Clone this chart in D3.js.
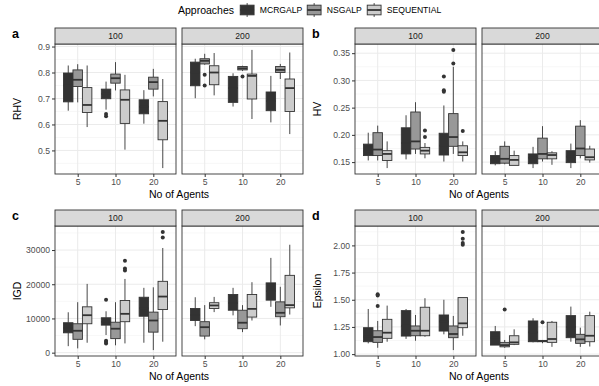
<!DOCTYPE html>
<html>
<head>
<meta charset="utf-8">
<script src="https://cdn.jsdelivr.net/npm/d3@7"></script>
<style>
  body { margin: 0; background: #fff; }
  text { font-family: "Liberation Sans", Arial, sans-serif; }
</style>
</head>
<body>
<script>
// categories
const facets = ["100", "200"];
const agents = ["5", "10", "20"];
const approaches = ["MCRGALP", "NSGALP", "SEQUENTIAL"];

// box stats: facet, agents, approach, lower whisker, q1, median, q3, upper whisker
const rhvBoxes = [
    ["100", "5", "MCRGALP", 0.653, 0.687, 0.750, 0.798, 0.827],
    ["100", "5", "NSGALP", 0.685, 0.746, 0.772, 0.810, 0.832],
    ["100", "5", "SEQUENTIAL", 0.590, 0.646, 0.675, 0.742, 0.827],
    ["100", "10", "MCRGALP", 0.657, 0.699, 0.718, 0.736, 0.765],
    ["100", "10", "NSGALP", 0.731, 0.759, 0.778, 0.794, 0.840],
    ["100", "10", "SEQUENTIAL", 0.503, 0.604, 0.695, 0.733, 0.791],
    ["100", "20", "MCRGALP", 0.603, 0.641, 0.668, 0.695, 0.732],
    ["100", "20", "NSGALP", 0.708, 0.736, 0.763, 0.782, 0.814],
    ["100", "20", "SEQUENTIAL", 0.432, 0.541, 0.614, 0.688, 0.775],
    ["200", "5", "MCRGALP", 0.701, 0.749, 0.800, 0.840, 0.853],
    ["200", "5", "NSGALP", 0.830, 0.833, 0.845, 0.853, 0.872],
    ["200", "5", "SEQUENTIAL", 0.712, 0.753, 0.800, 0.826, 0.875],
    ["200", "10", "MCRGALP", 0.669, 0.685, 0.740, 0.785, 0.797],
    ["200", "10", "NSGALP", 0.806, 0.810, 0.816, 0.823, 0.826],
    ["200", "10", "SEQUENTIAL", 0.621, 0.698, 0.787, 0.794, 0.887],
    ["200", "20", "MCRGALP", 0.608, 0.653, 0.690, 0.725, 0.787],
    ["200", "20", "NSGALP", 0.775, 0.800, 0.810, 0.823, 0.833],
    ["200", "20", "SEQUENTIAL", 0.563, 0.650, 0.740, 0.775, 0.877]
];
const rhvOutliers = [
    ["100", "10", "MCRGALP", 0.640], ["100", "10", "MCRGALP", 0.632],
    ["200", "5", "NSGALP", 0.791], ["200", "5", "NSGALP", 0.750],
    ["200", "10", "NSGALP", 0.785]
];
const rhvTicks = [0.5, 0.6, 0.7, 0.8, 0.9];

const hvBoxes = [
    ["100", "5", "MCRGALP", 0.153, 0.162, 0.170, 0.183, 0.204],
    ["100", "5", "NSGALP", 0.153, 0.162, 0.173, 0.204, 0.217],
    ["100", "5", "SEQUENTIAL", 0.139, 0.153, 0.165, 0.171, 0.188],
    ["100", "10", "MCRGALP", 0.155, 0.165, 0.185, 0.213, 0.236],
    ["100", "10", "NSGALP", 0.165, 0.174, 0.188, 0.242, 0.260],
    ["100", "10", "SEQUENTIAL", 0.157, 0.165, 0.171, 0.177, 0.185],
    ["100", "20", "MCRGALP", 0.151, 0.163, 0.180, 0.203, 0.254],
    ["100", "20", "NSGALP", 0.165, 0.179, 0.196, 0.239, 0.325],
    ["100", "20", "SEQUENTIAL", 0.151, 0.162, 0.168, 0.180, 0.188],
    ["200", "5", "MCRGALP", 0.144, 0.147, 0.155, 0.162, 0.170],
    ["200", "5", "NSGALP", 0.146, 0.148, 0.156, 0.179, 0.188],
    ["200", "5", "SEQUENTIAL", 0.144, 0.144, 0.154, 0.162, 0.171],
    ["200", "10", "MCRGALP", 0.139, 0.147, 0.158, 0.165, 0.178],
    ["200", "10", "NSGALP", 0.151, 0.156, 0.165, 0.194, 0.216],
    ["200", "10", "SEQUENTIAL", 0.145, 0.156, 0.163, 0.167, 0.170],
    ["200", "20", "MCRGALP", 0.139, 0.149, 0.160, 0.171, 0.184],
    ["200", "20", "NSGALP", 0.157, 0.162, 0.175, 0.216, 0.227],
    ["200", "20", "SEQUENTIAL", 0.149, 0.154, 0.159, 0.174, 0.180]
];
const hvOutliers = [
    ["100", "10", "SEQUENTIAL", 0.208], ["100", "10", "SEQUENTIAL", 0.196],
    ["100", "20", "MCRGALP", 0.307], ["100", "20", "MCRGALP", 0.282], ["100", "20", "MCRGALP", 0.279],
    ["100", "20", "NSGALP", 0.331], ["100", "20", "NSGALP", 0.356],
    ["100", "20", "SEQUENTIAL", 0.207]
];
const hvTicks = [0.15, 0.20, 0.25, 0.30, 0.35];

const igdBoxes = [
    ["100", "5", "MCRGALP", 1900, 5800, 7200, 8750, 11800],
    ["100", "5", "NSGALP", 1250, 3900, 6400, 8450, 14750],
    ["100", "5", "SEQUENTIAL", 2900, 8450, 10950, 13400, 20100],
    ["100", "10", "MCRGALP", 5150, 8050, 9000, 10200, 12100],
    ["100", "10", "NSGALP", 2150, 4100, 7000, 8900, 14750],
    ["100", "10", "SEQUENTIAL", 2700, 9050, 11350, 15250, 21550],
    ["100", "20", "MCRGALP", 2900, 10650, 13000, 16200, 18950],
    ["100", "20", "NSGALP", 750, 6000, 9400, 11850, 19100],
    ["100", "20", "SEQUENTIAL", 3200, 12600, 16400, 20850, 30600],
    ["200", "5", "MCRGALP", 7750, 9400, 11000, 12900, 16200],
    ["200", "5", "NSGALP", 3900, 4850, 7450, 9050, 13900],
    ["200", "5", "SEQUENTIAL", 11850, 12900, 13800, 14600, 16300],
    ["200", "10", "MCRGALP", 10900, 12400, 14500, 17000, 18950],
    ["200", "10", "NSGALP", 6000, 7000, 8750, 12400, 13900],
    ["200", "10", "SEQUENTIAL", 9400, 10400, 12800, 17000, 20600],
    ["200", "20", "MCRGALP", 13400, 15350, 18000, 20400, 27700],
    ["200", "20", "NSGALP", 7950, 10500, 11650, 14850, 19250],
    ["200", "20", "SEQUENTIAL", 11150, 13100, 13900, 22600, 31550]
];
const igdOutliers = [
    ["100", "10", "MCRGALP", 15450], ["100", "10", "MCRGALP", 3500],
    ["100", "10", "MCRGALP", 3100], ["100", "10", "MCRGALP", 2700],
    ["100", "10", "SEQUENTIAL", 24000], ["100", "10", "SEQUENTIAL", 24600], ["100", "10", "SEQUENTIAL", 26900],
    ["100", "20", "SEQUENTIAL", 33700], ["100", "20", "SEQUENTIAL", 35300]
];
const igdTicks = [0, 10000, 20000, 30000];

const epsBoxes = [
    ["100", "5", "MCRGALP", 1.099, 1.114, 1.160, 1.243, 1.415],
    ["100", "5", "NSGALP", 1.058, 1.108, 1.157, 1.215, 1.305],
    ["100", "5", "SEQUENTIAL", 1.114, 1.145, 1.197, 1.320, 1.446],
    ["100", "10", "MCRGALP", 1.140, 1.166, 1.260, 1.400, 1.415],
    ["100", "10", "NSGALP", 1.123, 1.169, 1.215, 1.259, 1.360],
    ["100", "10", "SEQUENTIAL", 1.160, 1.169, 1.215, 1.431, 1.514],
    ["100", "20", "MCRGALP", 1.182, 1.212, 1.300, 1.360, 1.500],
    ["100", "20", "NSGALP", 1.037, 1.151, 1.185, 1.259, 1.351],
    ["100", "20", "SEQUENTIAL", 1.169, 1.243, 1.283, 1.520, 1.520],
    ["200", "5", "MCRGALP", 1.083, 1.083, 1.150, 1.206, 1.259],
    ["200", "5", "NSGALP", 1.058, 1.067, 1.083, 1.108, 1.130],
    ["200", "5", "SEQUENTIAL", 1.083, 1.090, 1.108, 1.169, 1.228],
    ["200", "10", "MCRGALP", 1.108, 1.114, 1.200, 1.305, 1.330],
    ["200", "10", "NSGALP", 1.100, 1.114, 1.120, 1.126, 1.130],
    ["200", "10", "SEQUENTIAL", 1.067, 1.108, 1.139, 1.293, 1.305],
    ["200", "20", "MCRGALP", 1.114, 1.151, 1.250, 1.354, 1.437],
    ["200", "20", "NSGALP", 1.067, 1.099, 1.136, 1.182, 1.243],
    ["200", "20", "SEQUENTIAL", 1.070, 1.114, 1.169, 1.354, 1.390]
];
const epsOutliers = [
    ["100", "5", "NSGALP", 1.551], ["100", "5", "NSGALP", 1.538], ["100", "5", "NSGALP", 1.443],
    ["100", "20", "SEQUENTIAL", 2.124], ["100", "20", "SEQUENTIAL", 2.062],
    ["100", "20", "SEQUENTIAL", 2.022], ["100", "20", "SEQUENTIAL", 2.006],
    ["200", "5", "NSGALP", 1.410],
    ["200", "10", "NSGALP", 1.293]
];
const epsTicks = [1.00, 1.25, 1.50, 1.75, 2.00];

// look
const fillScale = d3.scaleOrdinal().domain(approaches).range(["#333333", "#989898", "#cccccc"]);
const ink = "#333333";
const panelW = 121;

const svg = d3.select("body").append("svg")
    .attr("width", 599)
    .attr("height", 386);

const panels = [
    { label: "a", title: "RHV", boxes: rhvBoxes, outliers: rhvOutliers, ticks: rhvTicks, fmt: d3.format(".1f"), lefts: [55, 182], top: 44, bottom: 174 },
    { label: "b", title: "HV", boxes: hvBoxes, outliers: hvOutliers, ticks: hvTicks, fmt: d3.format(".2f"), lefts: [355, 482], top: 44, bottom: 174 },
    { label: "c", title: "IGD", boxes: igdBoxes, outliers: igdOutliers, ticks: igdTicks, fmt: d3.format("d"), lefts: [55, 182], top: 226, bottom: 356 },
    { label: "d", title: "Epsilon", boxes: epsBoxes, outliers: epsOutliers, ticks: epsTicks, fmt: d3.format(".2f"), lefts: [355, 482], top: 226, bottom: 356 }
];

panels.forEach(drawPanel);
drawLegend();

function drawPanel(p) {
    // ggplot-like continuous range with 5% expansion
    const lo = d3.min([...p.boxes.map(d => d[3]), ...p.outliers.map(d => d[3])]);
    const hi = d3.max([...p.boxes.map(d => d[7]), ...p.outliers.map(d => d[3])]);
    const pad = (hi - lo) * 0.05;
    const y = d3.scaleLinear().domain([lo - pad, hi + pad]).range([p.bottom, p.top]);
    const step = p.ticks[1] - p.ticks[0];
    const minor = [p.ticks[0] - step / 2, ...p.ticks.map(t => t + step / 2)]
        .filter(v => v >= y.domain()[0] && v <= y.domain()[1]);

    const g = svg.append("g");

    facets.forEach((f, fi) => {
        const x0 = p.lefts[fi];
        const x = d3.scalePoint().domain(agents).range([x0, x0 + panelW]).padding(0.6);
        const dodge = d3.scaleBand().domain(approaches)
            .range([-0.375 * x.step(), 0.375 * x.step()]);
        const bw = dodge.bandwidth();
        const cx = d => x(d[1]) + dodge(d[2]) + bw / 2;

        const pg = g.append("g");

        pg.append("rect")
            .attr("x", x0).attr("y", p.top)
            .attr("width", panelW).attr("height", p.bottom - p.top)
            .attr("fill", "#fff");

        // grid
        pg.selectAll(".minor").data(minor).enter().append("line")
            .attr("x1", x0).attr("x2", x0 + panelW)
            .attr("y1", d => y(d)).attr("y2", d => y(d))
            .attr("stroke", "#f2f2f2").attr("stroke-width", 0.6);
        pg.selectAll(".major").data(p.ticks).enter().append("line")
            .attr("x1", x0).attr("x2", x0 + panelW)
            .attr("y1", d => y(d)).attr("y2", d => y(d))
            .attr("stroke", "#ebebeb").attr("stroke-width", 1);
        pg.selectAll(".vmajor").data(agents).enter().append("line")
            .attr("x1", d => x(d)).attr("x2", d => x(d))
            .attr("y1", p.top).attr("y2", p.bottom)
            .attr("stroke", "#ebebeb").attr("stroke-width", 1);

        const rows = p.boxes.filter(d => d[0] === f);

        // whiskers
        pg.selectAll(".wh").data(rows).enter().append("line")
            .attr("x1", cx).attr("x2", cx)
            .attr("y1", d => y(d[7])).attr("y2", d => y(d[6]))
            .attr("stroke", ink).attr("stroke-width", 0.9);
        pg.selectAll(".wl").data(rows).enter().append("line")
            .attr("x1", cx).attr("x2", cx)
            .attr("y1", d => y(d[4])).attr("y2", d => y(d[3]))
            .attr("stroke", ink).attr("stroke-width", 0.9);

        // boxes
        pg.selectAll(".box").data(rows).enter().append("rect")
            .attr("x", d => cx(d) - bw / 2)
            .attr("y", d => y(d[6]))
            .attr("width", bw)
            .attr("height", d => Math.max(0.5, y(d[4]) - y(d[6])))
            .attr("fill", d => fillScale(d[2]))
            .attr("stroke", ink).attr("stroke-width", 0.9);

        // medians
        pg.selectAll(".med").data(rows).enter().append("line")
            .attr("x1", d => cx(d) - bw / 2).attr("x2", d => cx(d) + bw / 2)
            .attr("y1", d => y(d[5])).attr("y2", d => y(d[5]))
            .attr("stroke", ink).attr("stroke-width", 1.8);

        // outliers
        pg.selectAll(".out").data(p.outliers.filter(d => d[0] === f)).enter().append("circle")
            .attr("cx", cx).attr("cy", d => y(d[3]))
            .attr("r", 2).attr("fill", ink);

        // panel border
        pg.append("rect")
            .attr("x", x0).attr("y", p.top)
            .attr("width", panelW).attr("height", p.bottom - p.top)
            .attr("fill", "none").attr("stroke", ink).attr("stroke-width", 0.9);

        // strip
        pg.append("rect")
            .attr("x", x0).attr("y", p.top - 16)
            .attr("width", panelW).attr("height", 16)
            .attr("fill", "#d9d9d9").attr("stroke", ink).attr("stroke-width", 0.9);
        pg.append("text")
            .attr("x", x0 + panelW / 2).attr("y", p.top - 8)
            .attr("dy", "0.35em")
            .attr("text-anchor", "middle")
            .attr("font-size", 8.6).attr("fill", "#1a1a1a")
            .text(f);

        // x axis
        const xAxis = pg.append("g")
            .attr("transform", `translate(0,${p.bottom})`)
            .call(d3.axisBottom(x).tickSize(3).tickPadding(2));
        xAxis.select(".domain").remove();
        xAxis.selectAll("line").attr("stroke", ink);
        xAxis.selectAll("text").attr("font-size", 8.6).attr("fill", "#4d4d4d")
            .attr("font-family", "Liberation Sans, Arial, sans-serif");

        if (fi === 0) {
            const yAxis = pg.append("g")
                .attr("transform", `translate(${x0},0)`)
                .call(d3.axisLeft(y).tickValues(p.ticks).tickFormat(p.fmt).tickSize(3).tickPadding(2));
            yAxis.select(".domain").remove();
            yAxis.selectAll("line").attr("stroke", ink);
            yAxis.selectAll("text").attr("font-size", 8.6).attr("fill", "#4d4d4d")
                .attr("font-family", "Liberation Sans, Arial, sans-serif");
        }
    });

    const left = p.lefts[0], right = p.lefts[1] + panelW;

    g.append("text")
        .attr("x", (left + right) / 2).attr("y", p.bottom + 24)
        .attr("text-anchor", "middle")
        .attr("font-size", 10.5).attr("fill", "#000")
        .text("No of Agents");

    g.append("text")
        .attr("transform", `translate(${left - 34},${(p.top + p.bottom) / 2}) rotate(-90)`)
        .attr("text-anchor", "middle")
        .attr("font-size", 10.5).attr("fill", "#000")
        .text(p.title);

    g.append("text")
        .attr("x", left - 43).attr("y", p.top - 6.5)
        .attr("font-size", 12.5).attr("font-weight", "bold").attr("fill", "#000")
        .text(p.label);
}

function drawLegend() {
    const lg = svg.append("g");
    const cy = 10;
    lg.append("text")
        .attr("x", 178).attr("y", cy).attr("dy", "0.35em")
        .attr("font-size", 10.5).attr("fill", "#000")
        .text("Approaches");

    const keyX = [238.5, 305.5, 365.5];
    const k = 17.3;
    approaches.forEach((a, i) => {
        const kx = keyX[i], ky = cy - k / 2;
        lg.append("line")
            .attr("x1", kx + k / 2).attr("x2", kx + k / 2)
            .attr("y1", ky + 0.1 * k).attr("y2", ky + 0.9 * k)
            .attr("stroke", ink).attr("stroke-width", 0.9);
        lg.append("rect")
            .attr("x", kx + 0.1 * k).attr("y", ky + 0.22 * k)
            .attr("width", 0.8 * k).attr("height", 0.56 * k)
            .attr("fill", fillScale(a)).attr("stroke", ink).attr("stroke-width", 0.9);
        lg.append("line")
            .attr("x1", kx + 0.1 * k).attr("x2", kx + 0.9 * k)
            .attr("y1", cy).attr("y2", cy)
            .attr("stroke", ink).attr("stroke-width", 1.8);
        lg.append("text")
            .attr("x", kx + k + 4).attr("y", cy).attr("dy", "0.35em")
            .attr("font-size", 8.6).attr("fill", "#000")
            .text(a);
    });
}
</script>
</body>
</html>
